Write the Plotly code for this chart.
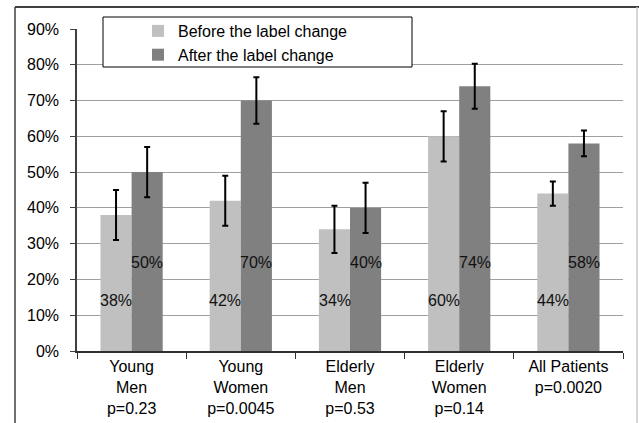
import plotly.graph_objects as go

categories = ["Young<br>Men<br>p=0.23", "Young<br>Women<br>p=0.0045", "Elderly<br>Men<br>p=0.53",
              "Elderly<br>Women<br>p=0.14", "All Patients<br>p=0.0020"]
before = [0.38, 0.42, 0.34, 0.60, 0.44]
after = [0.50, 0.70, 0.40, 0.74, 0.58]
before_err = [0.07, 0.07, 0.066, 0.07, 0.034]
after_err = [0.07, 0.065, 0.07, 0.063, 0.036]
y_ticks = [0, 0.1, 0.2, 0.3, 0.4, 0.5, 0.6, 0.7, 0.8, 0.9]
y_tick_labels = ["0%", "10%", "20%", "30%", "40%", "50%", "60%", "70%", "80%", "90%"]

FONT = "Liberation Sans, Arial, sans-serif"
L, R, T, B = 77, 16, 29, 72
PW, PH = 639 - L - R, 423 - T - B


def px_x(x):
    return (x - L) / PW


def px_y(y):
    return (423 - B - y) / PH


fig = go.Figure()
fig.add_trace(go.Bar(
    name="Before the label change", x=categories, y=before, marker_color="#C0C0C0",
    error_y=dict(type="data", array=before_err, color="black", thickness=2, width=3),
))
fig.add_trace(go.Bar(
    name="After the label change", x=categories, y=after, marker_color="#808080",
    error_y=dict(type="data", array=after_err, color="black", thickness=2, width=3),
))

annotations = []
for c, b, a in zip(categories, before, after):
    annotations.append(dict(x=c, y=0.142, xref="x", yref="y", text=f"{round(b*100)}%", showarrow=False,
                            xshift=-15.5, font=dict(size=16, color="#111", family=FONT)))
    annotations.append(dict(x=c, y=0.247, xref="x", yref="y", text=f"{round(a*100)}%", showarrow=False,
                            xshift=15.5, font=dict(size=16, color="#111", family=FONT)))

frame = dict(xref="paper", yref="paper", type="line", layer="below")
fig.update_layout(
    template="none",
    width=639, height=423,
    margin=dict(l=L, r=R, t=T, b=B, autoexpand=False),
    paper_bgcolor="white", plot_bgcolor="white",
    barmode="group", bargap=0.43, bargroupgap=0,
    font=dict(family=FONT, size=16, color="black"),
    showlegend=True,
    legend=dict(x=px_x(138), xref="paper", y=px_y(14), yref="paper",
                xanchor="left", yanchor="top",
                bgcolor="rgba(0,0,0,0)", borderwidth=0,
                font=dict(size=16, family=FONT), itemwidth=30, tracegroupgap=0),
    annotations=annotations,
    shapes=[
        dict(frame, x0=px_x(15), x1=px_x(639), y0=px_y(7), y1=px_y(7), line=dict(color="#404040", width=2)),
        dict(frame, x0=px_x(15), x1=px_x(15), y0=px_y(7), y1=px_y(430), line=dict(color="#404040", width=1.5)),
        dict(frame, x0=px_x(637), x1=px_x(637), y0=px_y(7), y1=px_y(430), line=dict(color="#C8C8C8", width=1.5)),
        dict(type="rect", xref="paper", yref="paper",
             x0=px_x(103), x1=px_x(412), y0=px_y(67), y1=px_y(17),
             line=dict(color="black", width=1), fillcolor="white", layer="above"),
    ],
)
fig.update_xaxes(showline=True, linecolor="#303030", linewidth=1.5, ticks="outside", tickson="boundaries",
                 ticklen=6, tickcolor="#303030", showgrid=False, automargin=False,
                 tickfont=dict(size=16, family=FONT))
fig.update_yaxes(range=[0, 0.9], tickvals=y_ticks, ticktext=y_tick_labels, showline=True, linecolor="#404040",
                 linewidth=1.5, ticks="outside", ticklen=5, tickcolor="#404040", showgrid=True,
                 gridcolor="#A0A0A0", gridwidth=1, zeroline=False, automargin=False,
                 ticklabelstandoff=8, tickfont=dict(size=16, family=FONT))

fig.write_html("out.html", config={"displayModeBar": False},
               post_script="document.body.style.margin='0';document.body.style.padding='0';")
